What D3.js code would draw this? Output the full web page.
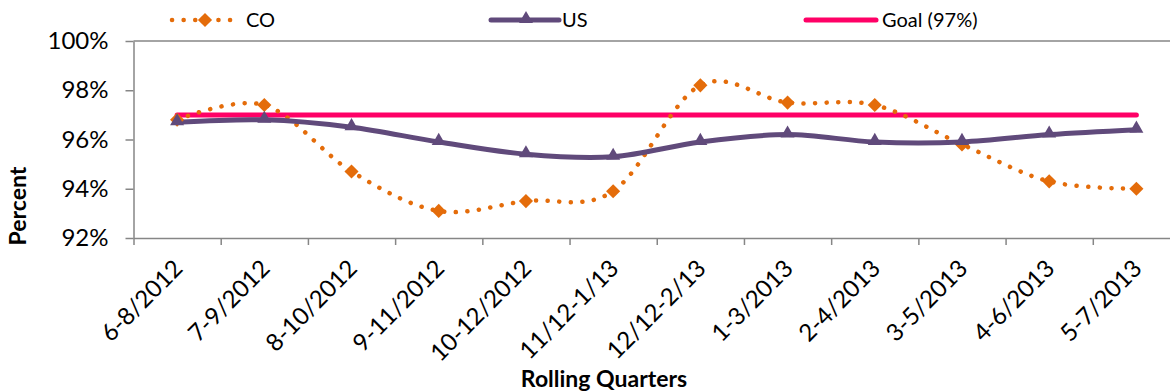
<!DOCTYPE html>
<html>
<head>
<meta charset="utf-8">
<script src="https://cdn.jsdelivr.net/npm/d3@7"></script>
<style>
    body { margin: 0; background: #fff; }
    text { font-family: Lato, "Open Sans", sans-serif; fill: #000; }
</style>
</head>
<body>
<div id="grafico"></div>
<script>
var quarters = ["6-8/2012", "7-9/2012", "8-10/2012", "9-11/2012", "10-12/2012", "11/12-1/13",
    "12/12-2/13", "1-3/2013", "2-4/2013", "3-5/2013", "4-6/2013", "5-7/2013"];
var coValues = [96.8, 97.4, 94.7, 93.1, 93.5, 93.9, 98.2, 97.5, 97.4, 95.8, 94.3, 94.0];
var usValues = [96.7, 96.8, 96.5, 95.9, 95.4, 95.3, 95.9, 96.2, 95.9, 95.9, 96.2, 96.4];
var goalValues = [97, 97, 97, 97, 97, 97, 97, 97, 97, 97, 97, 97];
var yTicks = [92, 94, 96, 98, 100];
var legendNames = ["CO", "US", "Goal (97%)"];

var width = 1170, height = 392;
var plot = { left: 133.5, right: 1180, top: 41, bottom: 238 };
var axisColor = "#868686";
var coColor = "#E46C0A", usColor = "#604A7B", goalColor = "#FF0066";

var svg = d3.select("#grafico").append("svg")
    .attr("width", width).attr("height", height);

var x = d3.scaleBand().domain(quarters).range([plot.left, plot.right]).padding(0);
var xEdge = d3.scaleLinear().domain([0, quarters.length]).range([plot.left, plot.right]);
var y = d3.scaleLinear().domain([92, 100]).range([plot.bottom, plot.top]);
var cx = function(d, i) { return x(quarters[i]) + x.bandwidth() / 2; };

/* eixos */
var yAxis = svg.append("g").attr("transform", "translate(" + plot.left + ",0)")
    .call(d3.axisLeft(y).tickValues(yTicks).tickSize(8).tickSizeOuter(0).tickPadding(17)
        .tickFormat(function(d) { return d + "%"; }));
yAxis.selectAll("path, line").attr("stroke", axisColor).attr("stroke-width", 1.5);
yAxis.selectAll("text").style("font-size", "24px").attr("fill", "#000")
    .style("font-family", "Lato, sans-serif");

svg.append("line").attr("x1", plot.left).attr("x2", plot.right)
    .attr("y1", y(100)).attr("y2", y(100))
    .attr("stroke", axisColor).attr("stroke-width", 1.5);

var xAxis = svg.append("g").attr("transform", "translate(0," + plot.bottom + ")")
    .call(d3.axisBottom(xEdge).tickValues(d3.range(quarters.length + 1)).tickSize(7)
        .tickSizeOuter(0).tickFormat(""));
xAxis.selectAll("path, line").attr("stroke", axisColor).attr("stroke-width", 1.5);

svg.append("g").selectAll("text").data(quarters).enter().append("text")
    .attr("transform", function(d, i) {
        return "translate(" + (cx(d, i) + 7) + "," + (plot.bottom + 32) + ") rotate(-45)";
    })
    .attr("text-anchor", "end")
    .style("font-size", "24px")
    .text(function(d) { return d; });

svg.append("text")
    .attr("transform", "translate(26,206) rotate(-90)")
    .attr("text-anchor", "middle")
    .style("font-size", "23px").style("font-weight", "bold")
    .text("Percent");

svg.append("text")
    .attr("x", 604).attr("y", 387)
    .attr("text-anchor", "middle")
    .style("font-size", "23px").style("font-weight", "bold")
    .text("Rolling Quarters");

/* linhas */
var smooth = d3.line().x(cx).y(function(d) { return y(d); }).curve(d3.curveCatmullRom.alpha(0));

svg.append("path").datum(goalValues)
    .attr("d", d3.line().x(cx).y(function(d) { return y(d); }))
    .attr("fill", "none").attr("stroke", goalColor).attr("stroke-width", 5)
    .attr("stroke-linecap", "round");

svg.append("path").datum(coValues)
    .attr("d", smooth)
    .attr("fill", "none").attr("stroke", coColor).attr("stroke-width", 4.5)
    .attr("stroke-linecap", "round").attr("stroke-dasharray", "0.1,11.5");

svg.append("path").datum(usValues)
    .attr("d", smooth)
    .attr("fill", "none").attr("stroke", usColor).attr("stroke-width", 5)
    .attr("stroke-linecap", "round");

var diamond = d3.symbol(d3.symbolSquare, 100);
var triangle = d3.symbol(d3.symbolTriangle, 85);

svg.append("g").selectAll("path").data(coValues).enter().append("path")
    .attr("d", diamond)
    .attr("transform", function(d, i) { return "translate(" + cx(d, i) + "," + y(d) + ") rotate(45)"; })
    .attr("fill", coColor);

svg.append("g").selectAll("path").data(usValues).enter().append("path")
    .attr("d", triangle)
    .attr("transform", function(d, i) { return "translate(" + cx(d, i) + "," + (y(d) - 1) + ")"; })
    .attr("fill", usColor);

/* legenda */
var legend = svg.append("g");
var ly = 20;

legend.append("line").attr("x1", 172).attr("x2", 234).attr("y1", ly).attr("y2", ly)
    .attr("stroke", coColor).attr("stroke-width", 4.5).attr("stroke-linecap", "round")
    .attr("stroke-dasharray", "0.1,11.5");
legend.append("path").attr("d", diamond)
    .attr("transform", "translate(205," + ly + ") rotate(45)").attr("fill", coColor);
legend.append("text").attr("x", 246).attr("y", ly + 7).style("font-size", "20px").text(legendNames[0]);

legend.append("line").attr("x1", 491).attr("x2", 559).attr("y1", ly).attr("y2", ly)
    .attr("stroke", usColor).attr("stroke-width", 5).attr("stroke-linecap", "round");
legend.append("path").attr("d", triangle)
    .attr("transform", "translate(526," + (ly - 1) + ")").attr("fill", usColor);
legend.append("text").attr("x", 562).attr("y", ly + 7).style("font-size", "20px").text(legendNames[1]);

legend.append("line").attr("x1", 806).attr("x2", 876).attr("y1", ly).attr("y2", ly)
    .attr("stroke", goalColor).attr("stroke-width", 5).attr("stroke-linecap", "round");
legend.append("text").attr("x", 882).attr("y", ly + 7).style("font-size", "20px").text(legendNames[2]);
</script>
</body>
</html>
